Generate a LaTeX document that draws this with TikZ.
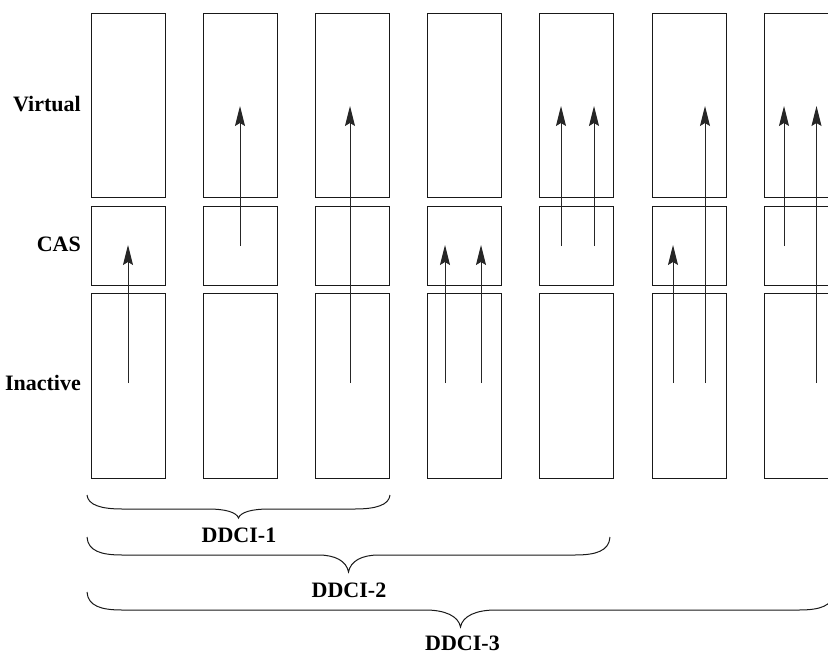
\documentclass[tikz,border=0pt]{standalone}
\usepackage{fontspec}
\setmainfont{Liberation Serif}
\usetikzlibrary{arrows.meta}
\newcommand\mybrace[8]{%
  \draw[bracestyle] (#1,#4) .. controls ({#1+1},{#5-4}) and ({#1+0.4*#7},#5) .. ({#1+#7},#5)
    -- ({#3-#8},#5) .. controls ({#3-0.45*#8},#5) and ({#3-2},{#5+0.35*(#6-#5)}) .. (#3,#6)
    .. controls ({#3+2},{#5+0.35*(#6-#5)}) and ({#3+0.45*#8},#5) .. ({#3+#8},#5)
    -- ({#2-#7},#5) .. controls ({#2-0.4*#7},#5) and ({#2-1},{#5-4}) .. (#2,#4);}
\begin{document}
\begin{tikzpicture}[x=1pt,y=-1pt,
  cell/.style={draw=black!90, line width=1pt, inner sep=0pt, minimum width=74pt},
  virt/.style={cell, minimum height=184pt},
  cas/.style={cell, minimum height=79pt},
  inac/.style={cell, minimum height=185pt},
  exc/.style={draw=black!85, line width=1pt, -{Stealth[length=20pt,width=10pt,inset=3pt]}},
  lab/.style={font=\fontsize{22}{24}\selectfont\bfseries, inner sep=0pt},
  bracestyle/.style={draw=black!90, line width=1pt}]
\useasboundingbox (0,0) rectangle (828,656);
\clip (0,0) rectangle (828,656);

\foreach \i/\x in {1/128,2/240.2,3/352.4,4/464.6,5/576.8,6/689,7/801.2}{
  \node[virt] (v\i) at (\x,105) {};
  \node[cas] (c\i) at (\x,245.5) {};
  \node[inac] (n\i) at (\x,385.5) {};
}

\node[lab, anchor=east] (lv) at (81,104) {Virtual};
\node[lab, anchor=east] (lc) at (81,244) {CAS};
\node[lab, anchor=east] (li) at (81,383) {Inactive};

% arrows: start/end coordinates
\coordinate (a1s) at (128,383);   \coordinate (a1e) at (128,245);
\coordinate (a2s) at (240,246);   \coordinate (a2e) at (240,106);
\coordinate (a3s) at (350,383);   \coordinate (a3e) at (350,106);
\coordinate (a4s) at (445,383);   \coordinate (a4e) at (445,245);
\coordinate (a5s) at (481,383);   \coordinate (a5e) at (481,245);
\coordinate (a6s) at (561,246);   \coordinate (a6e) at (561,106);
\coordinate (a7s) at (594,246);   \coordinate (a7e) at (594,106);
\coordinate (a8s) at (673,383);   \coordinate (a8e) at (673,245);
\coordinate (a9s) at (705,383);   \coordinate (a9e) at (705,106);
\coordinate (a10s) at (784,246);  \coordinate (a10e) at (784,106);
\coordinate (a11s) at (816.5,383);\coordinate (a11e) at (816.5,106);
\foreach \k in {1,...,11}{ \draw[exc] (a\k s) -- (a\k e); }

\mybrace{87}{390}{238.5}{495}{509}{518}{35}{30}
\mybrace{87}{610}{348.5}{537}{555}{572}{35}{30}
\mybrace{87}{834}{460.5}{592}{610}{627}{35}{35}

\node[lab] (d1) at (239,535.5) {DDCI-1};
\node[lab] (d2) at (349,590.5) {DDCI-2};
\node[lab] (d3) at (462.5,643) {DDCI-3};
\end{tikzpicture}
\end{document}
